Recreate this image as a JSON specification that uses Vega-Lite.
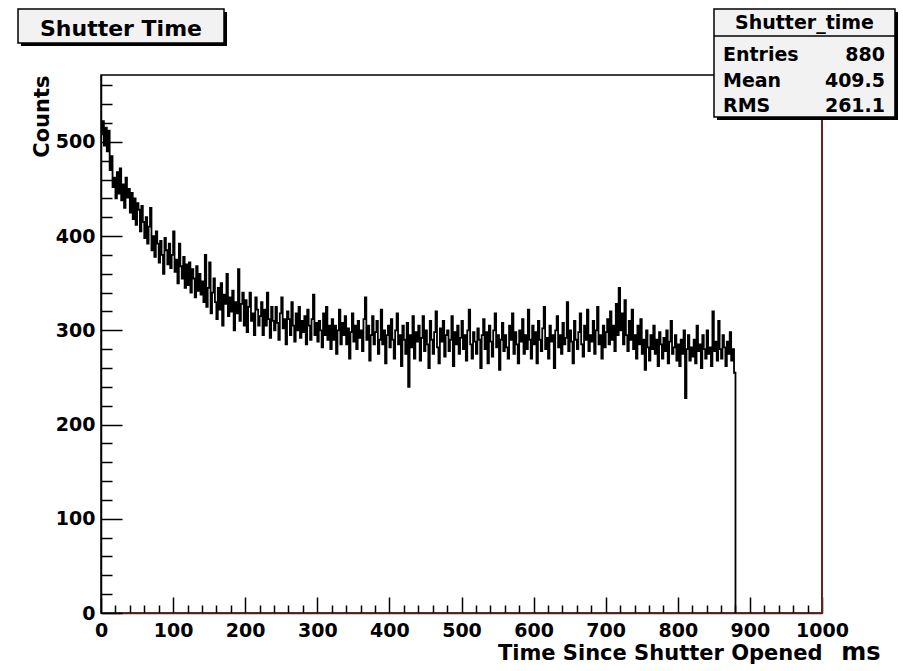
{
  "$schema": "https://vega.github.io/schema/vega-lite/v6.json",
  "width": 721,
  "height": 538,
  "autosize": {"type": "none"},
  "padding": {"left": 101, "top": 75, "right": 81, "bottom": 58},
  "background": "white",
  "view": {"stroke": "black", "strokeWidth": 1.5},
  "config": {
    "font": "DejaVu Sans",
    "text": {"font": "DejaVu Sans", "fontWeight": "bold", "color": "black"}
  },
  "resolve": {"axis": {"x": "independent", "y": "independent"}},
  "datasets": {
    "hist": [
{"t":0,"c":508},{"t":2,"c":522},{"t":4,"c":496},{"t":6,"c":515},{"t":8,"c":490},{"t":10,"c":512},{"t":12,"c":470},{"t":14,"c":485},{"t":16,"c":452},{"t":18,"c":462},
{"t":20,"c":440},{"t":22,"c":468},{"t":24,"c":445},{"t":26,"c":472},{"t":28,"c":438},{"t":30,"c":455},{"t":32,"c":430},{"t":34,"c":462},{"t":36,"c":441},{"t":38,"c":450},
{"t":40,"c":425},{"t":42,"c":446},{"t":44,"c":418},{"t":46,"c":440},{"t":48,"c":412},{"t":50,"c":435},{"t":52,"c":428},{"t":54,"c":405},{"t":56,"c":432},{"t":58,"c":415},
{"t":60,"c":398},{"t":62,"c":420},{"t":64,"c":392},{"t":66,"c":410},{"t":68,"c":430},{"t":70,"c":385},{"t":72,"c":400},{"t":74,"c":378},{"t":76,"c":405},{"t":78,"c":392},
{"t":80,"c":372},{"t":82,"c":395},{"t":84,"c":380},{"t":86,"c":360},{"t":88,"c":398},{"t":90,"c":385},{"t":92,"c":370},{"t":94,"c":392},{"t":96,"c":366},{"t":98,"c":380},
{"t":100,"c":405},{"t":102,"c":362},{"t":104,"c":375},{"t":106,"c":350},{"t":108,"c":392},{"t":110,"c":368},{"t":112,"c":355},{"t":114,"c":378},{"t":116,"c":345},{"t":118,"c":370},
{"t":120,"c":348},{"t":122,"c":372},{"t":124,"c":340},{"t":126,"c":365},{"t":128,"c":355},{"t":130,"c":335},{"t":132,"c":368},{"t":134,"c":342},{"t":136,"c":360},{"t":138,"c":338},
{"t":140,"c":352},{"t":142,"c":330},{"t":144,"c":380},{"t":146,"c":325},{"t":148,"c":345},{"t":150,"c":372},{"t":152,"c":318},{"t":154,"c":340},{"t":156,"c":355},{"t":158,"c":330},
{"t":160,"c":312},{"t":162,"c":345},{"t":164,"c":322},{"t":166,"c":350},{"t":168,"c":305},{"t":170,"c":338},{"t":172,"c":328},{"t":174,"c":360},{"t":176,"c":315},{"t":178,"c":335},
{"t":180,"c":320},{"t":182,"c":342},{"t":184,"c":300},{"t":186,"c":330},{"t":188,"c":318},{"t":190,"c":365},{"t":192,"c":310},{"t":194,"c":328},{"t":196,"c":340},{"t":198,"c":305},
{"t":200,"c":332},{"t":202,"c":298},{"t":204,"c":325},{"t":206,"c":340},{"t":208,"c":310},{"t":210,"c":318},{"t":212,"c":295},{"t":214,"c":335},{"t":216,"c":322},{"t":218,"c":305},
{"t":220,"c":315},{"t":222,"c":330},{"t":224,"c":295},{"t":226,"c":322},{"t":228,"c":305},{"t":230,"c":340},{"t":232,"c":312},{"t":234,"c":292},{"t":236,"c":325},{"t":238,"c":310},
{"t":240,"c":300},{"t":242,"c":325},{"t":244,"c":308},{"t":246,"c":290},{"t":248,"c":318},{"t":250,"c":335},{"t":252,"c":302},{"t":254,"c":312},{"t":256,"c":285},{"t":258,"c":320},
{"t":260,"c":312},{"t":262,"c":295},{"t":264,"c":330},{"t":266,"c":305},{"t":268,"c":288},{"t":270,"c":318},{"t":272,"c":300},{"t":274,"c":325},{"t":276,"c":292},{"t":278,"c":310},
{"t":280,"c":298},{"t":282,"c":315},{"t":284,"c":285},{"t":286,"c":322},{"t":288,"c":305},{"t":290,"c":290},{"t":292,"c":312},{"t":294,"c":338},{"t":296,"c":295},{"t":298,"c":308},
{"t":300,"c":288},{"t":302,"c":310},{"t":304,"c":300},{"t":306,"c":282},{"t":308,"c":318},{"t":310,"c":295},{"t":312,"c":325},{"t":314,"c":290},{"t":316,"c":305},{"t":318,"c":280},
{"t":320,"c":312},{"t":322,"c":290},{"t":324,"c":305},{"t":326,"c":275},{"t":328,"c":300},{"t":330,"c":322},{"t":332,"c":285},{"t":334,"c":308},{"t":336,"c":295},{"t":338,"c":315},
{"t":340,"c":285},{"t":342,"c":302},{"t":344,"c":270},{"t":346,"c":298},{"t":348,"c":318},{"t":350,"c":288},{"t":352,"c":305},{"t":354,"c":280},{"t":356,"c":310},{"t":358,"c":292},
{"t":360,"c":300},{"t":362,"c":278},{"t":364,"c":312},{"t":366,"c":335},{"t":368,"c":290},{"t":370,"c":305},{"t":372,"c":268},{"t":374,"c":295},{"t":376,"c":315},{"t":378,"c":285},
{"t":380,"c":298},{"t":382,"c":310},{"t":384,"c":275},{"t":386,"c":290},{"t":388,"c":322},{"t":390,"c":285},{"t":392,"c":300},{"t":394,"c":265},{"t":396,"c":295},{"t":398,"c":305},
{"t":400,"c":282},{"t":402,"c":312},{"t":404,"c":290},{"t":406,"c":270},{"t":408,"c":300},{"t":410,"c":318},{"t":412,"c":285},{"t":414,"c":295},{"t":416,"c":262},{"t":418,"c":305},
{"t":420,"c":290},{"t":422,"c":275},{"t":424,"c":308},{"t":426,"c":240},{"t":428,"c":295},{"t":430,"c":282},{"t":432,"c":315},{"t":434,"c":270},{"t":436,"c":298},{"t":438,"c":288},
{"t":440,"c":305},{"t":442,"c":268},{"t":444,"c":292},{"t":446,"c":315},{"t":448,"c":278},{"t":450,"c":300},{"t":452,"c":285},{"t":454,"c":260},{"t":456,"c":310},{"t":458,"c":290},
{"t":460,"c":275},{"t":462,"c":298},{"t":464,"c":320},{"t":466,"c":282},{"t":468,"c":265},{"t":470,"c":302},{"t":472,"c":288},{"t":474,"c":310},{"t":476,"c":272},{"t":478,"c":295},
{"t":480,"c":300},{"t":482,"c":278},{"t":484,"c":290},{"t":486,"c":315},{"t":488,"c":262},{"t":490,"c":298},{"t":492,"c":285},{"t":494,"c":305},{"t":496,"c":275},{"t":498,"c":292},
{"t":500,"c":310},{"t":502,"c":280},{"t":504,"c":295},{"t":506,"c":268},{"t":508,"c":300},{"t":510,"c":322},{"t":512,"c":285},{"t":514,"c":270},{"t":516,"c":298},{"t":518,"c":288},
{"t":520,"c":275},{"t":522,"c":302},{"t":524,"c":290},{"t":526,"c":260},{"t":528,"c":295},{"t":530,"c":312},{"t":532,"c":280},{"t":534,"c":298},{"t":536,"c":265},{"t":538,"c":305},
{"t":540,"c":288},{"t":542,"c":272},{"t":544,"c":300},{"t":546,"c":318},{"t":548,"c":282},{"t":550,"c":295},{"t":552,"c":258},{"t":554,"c":290},{"t":556,"c":308},{"t":558,"c":278},
{"t":560,"c":295},{"t":562,"c":282},{"t":564,"c":270},{"t":566,"c":305},{"t":568,"c":290},{"t":570,"c":318},{"t":572,"c":275},{"t":574,"c":298},{"t":576,"c":285},{"t":578,"c":265},
{"t":580,"c":300},{"t":582,"c":288},{"t":584,"c":312},{"t":586,"c":275},{"t":588,"c":295},{"t":590,"c":280},{"t":592,"c":322},{"t":594,"c":290},{"t":596,"c":270},{"t":598,"c":305},
{"t":600,"c":285},{"t":602,"c":298},{"t":604,"c":265},{"t":606,"c":310},{"t":608,"c":290},{"t":610,"c":278},{"t":612,"c":302},{"t":614,"c":325},{"t":616,"c":280},{"t":618,"c":292},
{"t":620,"c":270},{"t":622,"c":305},{"t":624,"c":288},{"t":626,"c":295},{"t":628,"c":260},{"t":630,"c":300},{"t":632,"c":315},{"t":634,"c":282},{"t":636,"c":295},{"t":638,"c":275},
{"t":640,"c":308},{"t":642,"c":285},{"t":644,"c":292},{"t":646,"c":330},{"t":648,"c":278},{"t":650,"c":300},{"t":652,"c":288},{"t":654,"c":265},{"t":656,"c":310},{"t":658,"c":290},
{"t":660,"c":280},{"t":662,"c":298},{"t":664,"c":318},{"t":666,"c":285},{"t":668,"c":272},{"t":670,"c":305},{"t":672,"c":290},{"t":674,"c":322},{"t":676,"c":278},{"t":678,"c":295},
{"t":680,"c":288},{"t":682,"c":310},{"t":684,"c":275},{"t":686,"c":300},{"t":688,"c":325},{"t":690,"c":285},{"t":692,"c":295},{"t":694,"c":270},{"t":696,"c":305},{"t":698,"c":282},
{"t":700,"c":298},{"t":702,"c":312},{"t":704,"c":285},{"t":706,"c":320},{"t":708,"c":290},{"t":710,"c":305},{"t":712,"c":278},{"t":714,"c":328},{"t":716,"c":295},{"t":718,"c":345},
{"t":720,"c":300},{"t":722,"c":318},{"t":724,"c":285},{"t":726,"c":332},{"t":728,"c":295},{"t":730,"c":278},{"t":732,"c":310},{"t":734,"c":290},{"t":736,"c":322},{"t":738,"c":280},
{"t":740,"c":295},{"t":742,"c":270},{"t":744,"c":305},{"t":746,"c":285},{"t":748,"c":312},{"t":750,"c":275},{"t":752,"c":290},{"t":754,"c":258},{"t":756,"c":300},{"t":758,"c":282},
{"t":760,"c":268},{"t":762,"c":295},{"t":764,"c":280},{"t":766,"c":305},{"t":768,"c":275},{"t":770,"c":290},{"t":772,"c":262},{"t":774,"c":298},{"t":776,"c":285},{"t":778,"c":270},
{"t":780,"c":292},{"t":782,"c":278},{"t":784,"c":300},{"t":786,"c":265},{"t":788,"c":288},{"t":790,"c":310},{"t":792,"c":275},{"t":794,"c":282},{"t":796,"c":295},{"t":798,"c":268},
{"t":800,"c":285},{"t":802,"c":262},{"t":804,"c":290},{"t":806,"c":275},{"t":808,"c":300},{"t":810,"c":228},{"t":812,"c":280},{"t":814,"c":295},{"t":816,"c":268},{"t":818,"c":282},
{"t":820,"c":272},{"t":822,"c":290},{"t":824,"c":265},{"t":826,"c":305},{"t":828,"c":278},{"t":830,"c":285},{"t":832,"c":260},{"t":834,"c":295},{"t":836,"c":280},{"t":838,"c":270},
{"t":840,"c":300},{"t":842,"c":275},{"t":844,"c":282},{"t":846,"c":262},{"t":848,"c":320},{"t":850,"c":278},{"t":852,"c":288},{"t":854,"c":268},{"t":856,"c":310},{"t":858,"c":280},
{"t":860,"c":270},{"t":862,"c":295},{"t":864,"c":282},{"t":866,"c":262},{"t":868,"c":288},{"t":870,"c":275},{"t":872,"c":298},{"t":874,"c":268},{"t":876,"c":280},{"t":878,"c":255},
{"t":880,"c":0}
    ],
    "one": [{}]
  },
  "layer": [
    {
      "data": {"name": "hist"},
      "mark": {"type": "line", "interpolate": "step-after", "color": "black", "strokeWidth": 1.8},
      "encoding": {
        "x": {
          "field": "t", "type": "quantitative",
          "scale": {"domain": [0, 1000], "nice": false, "zero": false},
          "axis": {
            "title": "Time Since Shutter Opened",
            "values": [0,20,40,60,80,100,120,140,160,180,200,220,240,260,280,300,320,340,360,380,400,420,440,460,480,500,520,540,560,580,600,620,640,660,680,700,720,740,760,780,800,820,840,860,880,900,920,940,960,980,1000],
            "format": "d",
            "labelExpr": "datum.value % 100 === 0 ? datum.label : ''",
            "tickSize": {"condition": {"test": "datum.value % 100 === 0", "value": -16}, "value": -8},
            "tickColor": "black", "tickWidth": 1.5,
            "domainColor": "#5c1a1a", "domainWidth": 1.5,
            "grid": false,
            "labelFont": "DejaVu Sans", "labelFontWeight": "bold", "labelFontSize": 19, "labelColor": "black",
            "labelPadding": 24, "labelFlush": false, "labelOverlap": false,
            "titleFont": "DejaVu Sans", "titleFontWeight": "bold", "titleFontSize": 21, "titleColor": "black",
            "titleAnchor": "end", "titleAlign": "right", "titleBaseline": "alphabetic", "titlePadding": 11
          }
        },
        "y": {
          "field": "c", "type": "quantitative",
          "scale": {"domain": [0, 571], "nice": false},
          "axis": {
            "title": "Counts",
            "values": [0,20,40,60,80,100,120,140,160,180,200,220,240,260,280,300,320,340,360,380,400,420,440,460,480,500,520,540,560],
            "format": "d",
            "labelExpr": "datum.value % 100 === 0 ? datum.label : ''",
            "tickSize": {"condition": {"test": "datum.value % 100 === 0", "value": -21}, "value": -11},
            "tickColor": "black", "tickWidth": 1.5,
            "domainColor": "black", "domainWidth": 1.5,
            "grid": false,
            "labelFont": "DejaVu Sans", "labelFontWeight": "bold", "labelFontSize": 19, "labelColor": "black",
            "labelPadding": 27, "labelOverlap": false, "labelFlush": false,
            "titleFont": "DejaVu Sans", "titleFontWeight": "bold", "titleFontSize": 21, "titleColor": "black",
            "titleAnchor": "end", "titlePadding": 3
          }
        }
      }
    },
    {
      "data": {"name": "one"},
      "mark": {"type": "rule", "color": "#6b1f1f", "strokeWidth": 2},
      "encoding": {
        "x": {"datum": 1000, "type": "quantitative", "axis": null},
        "y": {"datum": 0, "type": "quantitative", "axis": null},
        "y2": {"datum": 571}
      }
    },
    {
      "data": {"name": "one"},
      "mark": {"type": "rect", "fill": "black"},
      "encoding": {
        "x": {"datum": 854.4, "type": "quantitative", "axis": null},
        "x2": {"datum": 1105.4},
        "y": {"datum": 637.9, "type": "quantitative", "axis": null},
        "y2": {"datum": 523.2}
      }
    },
    {
      "data": {"name": "one"},
      "mark": {"type": "rect", "fill": "#f2f2f2", "stroke": "black", "strokeWidth": 1.5},
      "encoding": {
        "x": {"datum": 850.2, "type": "quantitative", "axis": null},
        "x2": {"datum": 1101.2},
        "y": {"datum": 641.0, "type": "quantitative", "axis": null},
        "y2": {"datum": 526.4}
      }
    },
    {
      "data": {"name": "one"},
      "mark": {"type": "rule", "color": "black", "strokeWidth": 1.5},
      "encoding": {
        "x": {"datum": 850.2, "type": "quantitative", "axis": null},
        "x2": {"datum": 1101.2},
        "y": {"datum": 612.4, "type": "quantitative", "axis": null}
      }
    },
    {
      "data": {"name": "one"},
      "mark": {"type": "text", "text": "Shutter_time", "fontSize": 19, "align": "center", "baseline": "alphabetic"},
      "encoding": {
        "x": {"datum": 975.7, "type": "quantitative", "axis": null},
        "y": {"datum": 619.3, "type": "quantitative", "axis": null}
      }
    },
    {
      "data": {"name": "one"},
      "mark": {"type": "text", "text": "Entries", "fontSize": 19, "align": "left", "baseline": "alphabetic"},
      "encoding": {
        "x": {"datum": 862.7, "type": "quantitative", "axis": null},
        "y": {"datum": 585.9, "type": "quantitative", "axis": null}
      }
    },
    {
      "data": {"name": "one"},
      "mark": {"type": "text", "text": "880", "fontSize": 19, "align": "right", "baseline": "alphabetic"},
      "encoding": {
        "x": {"datum": 1087.4, "type": "quantitative", "axis": null},
        "y": {"datum": 585.9, "type": "quantitative", "axis": null}
      }
    },
    {
      "data": {"name": "one"},
      "mark": {"type": "text", "text": "Mean", "fontSize": 19, "align": "left", "baseline": "alphabetic"},
      "encoding": {
        "x": {"datum": 862.7, "type": "quantitative", "axis": null},
        "y": {"datum": 558.0, "type": "quantitative", "axis": null}
      }
    },
    {
      "data": {"name": "one"},
      "mark": {"type": "text", "text": "409.5", "fontSize": 19, "align": "right", "baseline": "alphabetic"},
      "encoding": {
        "x": {"datum": 1087.4, "type": "quantitative", "axis": null},
        "y": {"datum": 558.0, "type": "quantitative", "axis": null}
      }
    },
    {
      "data": {"name": "one"},
      "mark": {"type": "text", "text": "RMS", "fontSize": 19, "align": "left", "baseline": "alphabetic"},
      "encoding": {
        "x": {"datum": 862.7, "type": "quantitative", "axis": null},
        "y": {"datum": 532.1, "type": "quantitative", "axis": null}
      }
    },
    {
      "data": {"name": "one"},
      "mark": {"type": "text", "text": "261.1", "fontSize": 19, "align": "right", "baseline": "alphabetic"},
      "encoding": {
        "x": {"datum": 1087.4, "type": "quantitative", "axis": null},
        "y": {"datum": 532.1, "type": "quantitative", "axis": null}
      }
    },
    {
      "data": {"name": "one"},
      "mark": {"type": "rect", "fill": "black"},
      "encoding": {
        "x": {"datum": -111.0, "type": "quantitative", "axis": null},
        "x2": {"datum": 174.8},
        "y": {"datum": 637.9, "type": "quantitative", "axis": null},
        "y2": {"datum": 601.8}
      }
    },
    {
      "data": {"name": "one"},
      "mark": {"type": "rect", "fill": "#f2f2f2", "stroke": "black", "strokeWidth": 1.5},
      "encoding": {
        "x": {"datum": -115.1, "type": "quantitative", "axis": null},
        "x2": {"datum": 170.6},
        "y": {"datum": 641.0, "type": "quantitative", "axis": null},
        "y2": {"datum": 604.9}
      }
    },
    {
      "data": {"name": "one"},
      "mark": {"type": "text", "text": "Shutter Time", "fontSize": 22, "align": "center", "baseline": "alphabetic"},
      "encoding": {
        "x": {"datum": 27.7, "type": "quantitative", "axis": null},
        "y": {"datum": 612.4, "type": "quantitative", "axis": null}
      }
    },
    {
      "data": {"name": "one"},
      "mark": {"type": "text", "text": "ms", "fontSize": 24, "align": "center", "baseline": "alphabetic"},
      "encoding": {
        "x": {"datum": 1054, "type": "quantitative", "axis": null},
        "y": {"datum": -49.9, "type": "quantitative", "axis": null}
      }
    }
  ]
}
